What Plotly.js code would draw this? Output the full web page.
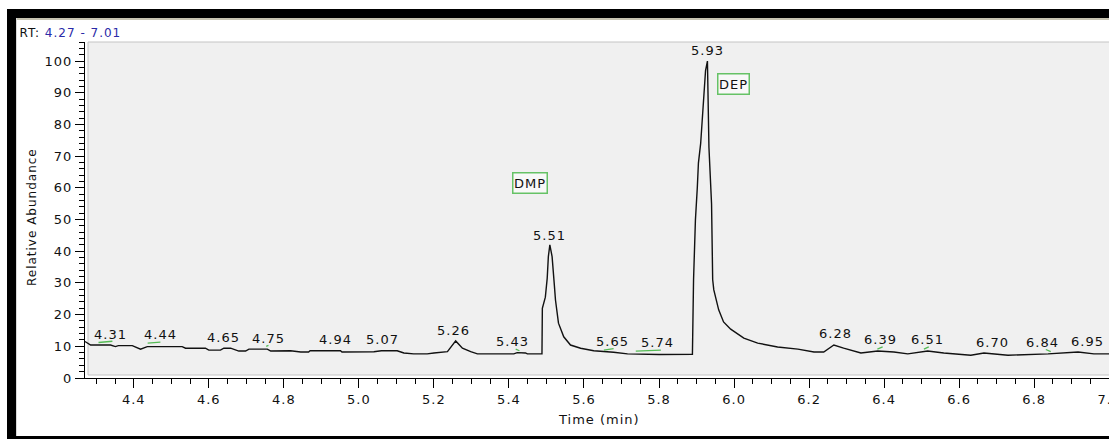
<!DOCTYPE html>
<html>
<head>
<meta charset="utf-8">
<script src="https://cdn.plot.ly/plotly-3.0.1.min.js"></script>
<style>
  html, body { margin: 0; padding: 0; background: #ffffff; width: 1109px; height: 439px; overflow: hidden; position: relative; }
  #chart { position: absolute; left: 0; top: 0; width: 1130px; height: 439px; }
  .main-svg text { letter-spacing: 1px; }
  .bar { position: absolute; background: #000; z-index: 10; }
  .thin { position: absolute; background: #c8c4b2; z-index: 10; }
</style>
</head>
<body>
<div id="chart"></div>
<div class="bar" style="left:7px; top:9px; width:1110px; height:9px;"></div>
<div class="thin" style="left:16px; top:18px; width:1100px; height:2px;"></div>
<div class="bar" style="left:7px; top:9px; width:9px; height:430px;"></div>
<div class="thin" style="left:16px; top:18px; width:1px; height:418px; background:#d8d8d8;"></div>
<div class="bar" style="left:7px; top:436px; width:1110px; height:3px;"></div>
<script>
// Chromatogram trace (retention time, min) and relative abundance (%)
const time = [4.270,4.285,4.338,4.351,4.359,4.396,4.418,4.436,4.529,4.538,4.591,4.600,4.631,4.640,4.658,4.680,4.698,4.707,4.756,4.765,
  4.818,4.845,4.866,4.870,4.951,4.955,5.040,5.060,5.102,5.120,5.146,5.182,5.200,5.236,5.258,5.276,5.298,5.316,5.413,5.422,
  5.444,5.449,5.488,5.489,5.497,5.502,5.505,5.509,5.515,5.518,5.521,5.524,5.532,5.546,5.564,5.591,5.626,5.679,5.716,5.800,
  5.884,5.889,5.892,5.897,5.902,5.905,5.911,5.916,5.920,5.924,5.929,5.930,5.933,5.940,5.943,5.946,5.959,5.972,5.991,6.026,
  6.063,6.116,6.170,6.213,6.239,6.266,6.292,6.338,6.383,6.426,6.463,6.516,6.559,6.631,6.666,6.730,6.837,6.917,6.959,7.010];
const abundance = [11.5,10.4,10.4,9.9,10.2,10.2,9.1,9.9,9.9,9.4,9.4,8.8,8.8,9.4,9.4,8.5,8.5,9.1,9.1,8.5,
  8.6,8.2,8.2,8.6,8.6,8.2,8.3,8.6,8.6,7.9,7.6,7.6,7.9,8.3,11.7,9.4,8.3,7.6,7.6,8.0,
  7.9,7.6,7.6,22.0,25.5,31.5,38.3,42.0,38.3,34.7,29.3,24.6,17.3,13.0,10.4,9.4,8.6,8.1,7.6,7.4,
  7.3,7.5,31.0,49.8,60.0,67.8,74.0,82.0,88.6,97.0,100.0,91.0,72.9,55.0,31.0,27.8,21.5,17.7,15.4,12.6,
  11.0,9.8,9.1,8.2,8.2,10.4,9.4,7.9,8.5,8.2,7.6,8.5,7.9,7.2,7.9,7.2,7.6,8.2,7.6,7.6];

// Peak retention-time labels
const peakLabels = ['4.31','4.44','4.65','4.75','4.94','5.07','5.26','5.43','5.51','5.65','5.74','5.93','6.28','6.39','6.51','6.70','6.84','6.95'];
const labelTimes = [4.338,4.471,4.640,4.759,4.938,5.062,5.252,5.409,5.509,5.676,5.796,5.929,6.271,6.391,6.516,6.689,6.823,6.943];
const peakHeights = [10.3,10.3,9.6,9.0,8.7,8.7,11.8,8.1,41.8,8.1,7.8,100,10.6,8.7,8.7,7.8,7.8,8.1];

// Green integration marks: start time, end time, start value, end value
const markStart = [4.306,4.437,4.753,5.418,5.653,5.738,6.382,6.506,6.831];
const markEnd   = [4.343,4.471,4.759,5.428,5.679,5.805,6.396,6.519,6.844];
const markV0    = [11.2,11.0,10.0,9.1,8.8,8.5,9.1,9.1,9.0];
const markV1    = [11.6,11.3,10.3,8.6,9.3,8.8,9.8,9.8,8.3];

// Compound names
const compounds = ['DMP','DEP'];
const compoundTimes = [5.457, 5.999];
const compoundY = [61.5, 92.7];

const FONT = '"DejaVu Sans", Verdana, sans-serif';

const mx = [], my = [];
for (let i = 0; i < markStart.length; i++) {
  mx.push(markStart[i], markEnd[i], null);
  my.push(markV0[i], markV1[i], null);
}

const traces = [
  { x: time, y: abundance, type: 'scatter', mode: 'lines',
    line: { color: '#111111', width: 1.4 }, hoverinfo: 'skip', showlegend: false },
  { x: mx, y: my, type: 'scatter', mode: 'lines', connectgaps: false,
    line: { color: '#55bb55', width: 1.3 }, hoverinfo: 'skip', showlegend: false }
];

const annotations = [];
for (let i = 0; i < peakLabels.length; i++) {
  annotations.push({ x: labelTimes[i], y: peakHeights[i], xref: 'x', yref: 'y', text: peakLabels[i],
    showarrow: false, xanchor: 'center', yanchor: 'middle', yshift: 10.5,
    font: { family: FONT, size: 13, color: '#111' } });
}
for (let i = 0; i < compounds.length; i++) {
  annotations.push({ x: compoundTimes[i], y: compoundY[i], xref: 'x', yref: 'y', text: compounds[i],
    showarrow: false, xanchor: 'center', yanchor: 'middle',
    bordercolor: '#66c266', borderwidth: 1.5, borderpad: 2, bgcolor: 'rgba(255,255,255,0.5)',
    font: { family: FONT, size: 13, color: '#111' } });
}
annotations.push({ xref: 'paper', yref: 'paper', x: 0, y: 1, xanchor: 'left', yanchor: 'middle',
  xshift: -60, yshift: 9, showarrow: false,
  text: 'RT: <span style="color:#2a2aa8">4.27 - 7.01</span>',
  font: { family: FONT, size: 12, color: '#111' } });
annotations.push({ xref: 'paper', yref: 'paper', x: 0, y: 0.479, xanchor: 'center', yanchor: 'middle',
  xshift: -53, textangle: -90, showarrow: false, text: 'Relative Abundance',
  font: { family: FONT, size: 12, color: '#111' } });
annotations.push({ xref: 'paper', yref: 'paper', x: 0.5, y: 0, xanchor: 'center', yanchor: 'middle',
  yshift: -41, showarrow: false, text: 'Time (min)',
  font: { family: FONT, size: 13, color: '#111' } });

const layout = {
  width: 1130, height: 439,
  margin: { l: 85, r: 17, t: 42, b: 61 },
  paper_bgcolor: 'rgba(0,0,0,0)', plot_bgcolor: '#ffffff',
  showlegend: false,
  font: { family: FONT, size: 13, color: '#111' },
  xaxis: { range: [4.27, 7.01], dtick: 0.2, tick0: 0, tickformat: '.1f',
    ticks: 'outside', ticklen: 9, tickwidth: 1, tickcolor: '#000',
    showline: true, linecolor: '#000', linewidth: 1, showgrid: false, zeroline: false,
    tickfont: { family: FONT, size: 13, color: '#111' },
    minor: { dtick: 0.05, tick0: 0, ticks: 'outside', ticklen: 5, tickcolor: '#000', showgrid: false } },
  yaxis: { range: [0, 106], dtick: 10, tick0: 0,
    ticks: 'outside', ticklen: 9, tickwidth: 1, tickcolor: '#000',
    showline: true, linecolor: '#000', linewidth: 1, showgrid: false, zeroline: false,
    tickfont: { family: FONT, size: 13, color: '#111' },
    minor: { dtick: 2, tick0: 0, ticks: 'outside', ticklen: 5, tickcolor: '#000', showgrid: false } },
  shapes: [{ type: 'rect', layer: 'below', xref: 'paper', yref: 'paper',
    xsizemode: 'pixel', ysizemode: 'pixel', xanchor: 0, yanchor: 0,
    x0: 3, x1: 1100, y0: 3, y1: 336,
    fillcolor: '#f0f0f0', line: { color: '#c4c4c4', width: 1 } }],
  annotations: annotations
};

Plotly.newPlot('chart', traces, layout, { displayModeBar: false, staticPlot: true });
</script>
</body>
</html>
